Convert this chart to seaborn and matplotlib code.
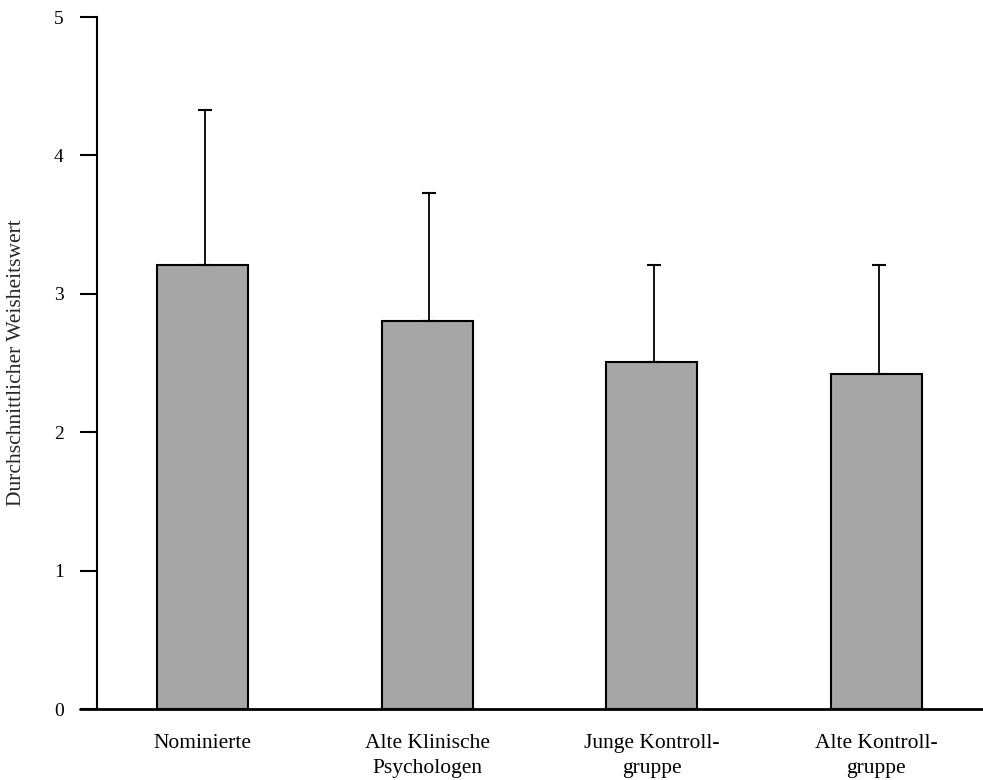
import numpy as np
import pandas as pd
import seaborn as sns
import matplotlib.pyplot as plt

# values
groups = ['Nominierte', 'Alte Klinische\nPsychologen', 'Junge Kontroll-\ngruppe', 'Alte Kontroll-\ngruppe']
means = [3.21, 2.80, 2.51, 2.42]
sd_upper = [1.12, 0.93, 0.70, 0.79]

df = pd.DataFrame({'Gruppe': groups, 'Wert': means})

sns.set_theme(style='white')
plt.rcParams['font.family'] = ['Liberation Serif', 'DejaVu Serif']

fig = plt.figure(figsize=(9.83, 7.80), dpi=100)
ax = fig.add_axes([97 / 983, 71 / 780, 886 / 983, 692 / 780])

sns.barplot(data=df, x='Gruppe', y='Wert', color='#a6a6a6', saturation=1,
            width=0.405, edgecolor='black', linewidth=1.5, errorbar=None, ax=ax)

x = np.arange(len(groups))
ax.errorbar(x + 0.01, means, yerr=[np.zeros(len(means)), sd_upper], fmt='none',
            ecolor='black', elinewidth=1.3, capsize=4.7, capthick=1.5)

ax.set_xlim(-0.47, 3.475)
ax.set_ylim(0, 5)
ax.set_yticks([0, 1, 2, 3, 4, 5])
ax.set_xlabel('')
ax.set_ylabel('Durchschnittlicher Weisheitswert', fontsize=15.5)
ax.yaxis.set_label_coords(-71 / 886, 0.5)

for s in ['top', 'right', 'bottom']:
    ax.spines[s].set_visible(False)
ax.spines['left'].set_color('black')
ax.spines['left'].set_linewidth(1.5)
ax.axhline(0, xmin=-17 / 886, xmax=1, color='black', lw=2, clip_on=False)

ax.tick_params(axis='y', direction='out', length=12, width=1.5, color='black',
               labelsize=14, pad=12, left=True, labelcolor='black')
ax.tick_params(axis='x', length=0, labelsize=15.5, pad=18, labelcolor='black')
for lbl in ax.get_xticklabels():
    lbl.set_linespacing(1.45)

fig.savefig('out.png', dpi=100)
